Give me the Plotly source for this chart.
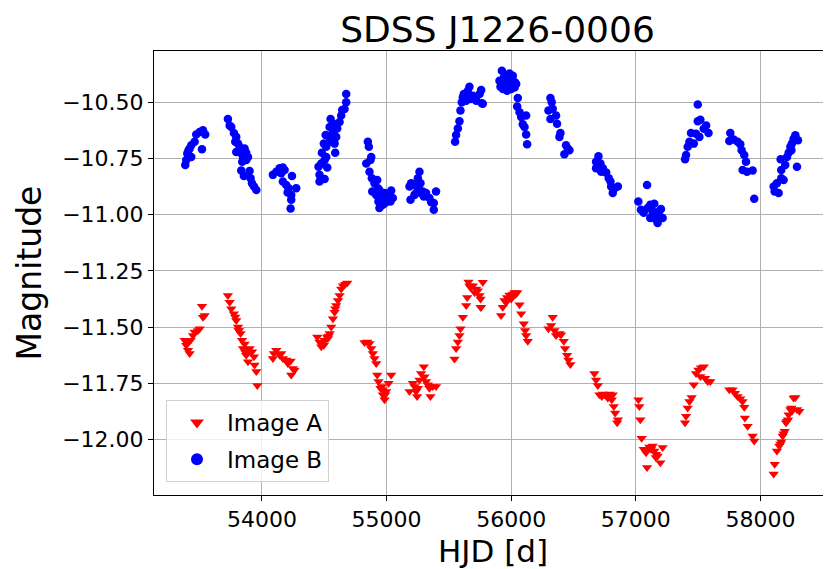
import plotly.graph_objects as go

# Image A (red, downward triangles)
hjd_a = [
    53380, 53393, 53407, 53420, 53428, 53447, 53460, 53487, 53500, 53527, 53519, 53540, 53401,
    53727, 53741, 53754, 53775, 53794, 53808, 53829, 53840, 53861, 53848, 53874, 53888, 53901,
    53920, 53936, 53941, 53955, 53963, 53888, 53785, 53815, 53813, 53867,
    54088, 54096, 54115, 54142, 54155, 54168, 54195, 54208, 54230, 54248, 54235, 54262,
    54444, 54462, 54476, 54497, 54503, 54524, 54543, 54556, 54570, 54583, 54596, 54610, 54623,
    54636, 54650, 54668, 54684, 54490, 54535, 54529, 54588,
    54823, 54845, 54863, 54877, 54890, 54903, 54917, 54925, 54935, 54951, 54970, 54984, 54997,
    55016, 55037, 54962, 54989, 54970,
    55184, 55211, 55237, 55245, 55264, 55277, 55299, 55304, 55317, 55344, 55352, 55371, 55397, 55224,
    55251, 55331,
    55545, 55558, 55572, 55585, 55593, 55612, 55639, 55647, 55657, 55673, 55692, 55706, 55719,
    55746, 55759, 55772, 55754, 55754, 55665, 55732,
    55919, 55932, 55946, 55967, 55986, 56000, 56027, 56048, 56067, 56080, 56101, 56112, 56120,
    56133, 55960, 56010, 56035, 55978, 56013,
    56333, 56299, 56320, 56347, 56360, 56387, 56400, 56422, 56432, 56448, 56459, 56475,
    56667, 56681, 56695, 56708, 56727, 56749, 56788, 56815, 56807, 56823, 56834, 56856, 56850, 56775,
    56762, 56735,
    57021, 57028, 57036, 57047, 57063, 57082, 57108, 57122, 57135, 57148, 57090, 57175, 57197,
    57215, 57160, 57095, 57162,
    57395, 57403, 57416, 57430, 57448, 57465, 57483, 57502, 57523, 57545, 57556, 57577, 57598, 57518,
    57750, 57776, 57795, 57816, 57838, 57856, 57870, 57875, 57897, 57937, 57950,
    58106, 58114, 58132, 58151, 58167, 58178, 58194, 58205, 58221, 58226, 58240, 58248, 58266,
    58280, 58293, 58312, 58185, 58160, 58213, 58253,
]
mag_a = [
    -11.559, -11.581, -11.603, -11.618, -11.559, -11.537, -11.522, -11.515, -11.507, -11.456, -11.407, -11.449, -11.569,
    -11.360, -11.390, -11.419, -11.441, -11.471, -11.500, -11.529, -11.559, -11.575, -11.595, -11.625, -11.603, -11.595,
    -11.610, -11.632, -11.669, -11.698, -11.760, -11.654, -11.455, -11.515, -11.515, -11.613,
    -11.640, -11.618, -11.603, -11.625, -11.618, -11.640, -11.647, -11.662, -11.651, -11.684, -11.713, -11.691,
    -11.544, -11.566, -11.588, -11.581, -11.559, -11.544, -11.529, -11.500, -11.463, -11.434, -11.404, -11.382, -11.360,
    -11.331, -11.316, -11.309, -11.304, -11.570, -11.540, -11.551, -11.419,
    -11.569, -11.566, -11.573, -11.595, -11.618, -11.640, -11.662, -11.713, -11.742, -11.772, -11.801, -11.823, -11.787,
    -11.750, -11.713, -11.764, -11.801, -11.779,
    -11.787, -11.750, -11.787, -11.809, -11.735, -11.706, -11.676, -11.721, -11.742, -11.772, -11.809, -11.764, -11.764, -11.764,
    -11.772, -11.757,
    -11.642, -11.595, -11.566, -11.537, -11.507, -11.456, -11.404, -11.368, -11.299, -11.324, -11.316, -11.346, -11.331,
    -11.360, -11.412, -11.301, -11.375, -11.412, -11.316, -11.338,
    -11.448, -11.412, -11.382, -11.368, -11.357, -11.375, -11.346, -11.346, -11.401, -11.441, -11.485, -11.515, -11.537,
    -11.563, -11.390, -11.360, -11.355, -11.372, -11.353,
    -11.456, -11.507, -11.493, -11.515, -11.537, -11.529, -11.534, -11.563, -11.595, -11.625, -11.647, -11.666,
    -11.706, -11.735, -11.760, -11.801, -11.809, -11.801, -11.798, -11.801, -11.823, -11.853, -11.882, -11.912, -11.926, -11.816,
    -11.804, -11.798,
    -11.823, -11.853, -11.912, -11.995, -12.044, -12.059, -12.034, -12.044, -12.029, -12.051, -12.125, -12.073, -12.103,
    -12.036, -12.080, -12.044, -12.066,
    -11.926, -11.897, -11.860, -11.831, -11.813, -11.757, -11.706, -11.691, -11.681, -11.676, -11.728, -11.742, -11.742, -11.720,
    -11.779, -11.779, -11.794, -11.809, -11.819, -11.831, -11.857, -11.904, -11.941, -11.985, -12.007,
    -12.154, -12.110, -12.051, -12.029, -12.010, -11.985, -11.963, -11.926, -11.912, -11.890, -11.867, -11.860, -11.816,
    -11.813, -11.867, -11.875, -11.975, -12.020, -11.919, -11.875,
]

# Image B (blue, circles)
hjd_b = [
    53385, 53393, 53401, 53420, 53433, 53460, 53473, 53500, 53527, 53545, 53519, 53433, 53410,
    53727, 53741, 53754, 53775, 53794, 53786, 53808, 53794, 53829, 53861, 53874, 53888, 53842,
    53834, 53855, 53901, 53909, 53920, 53936, 53955, 53848, 53874, 53821, 53866,
    54088, 54115, 54142, 54168, 54182, 54155, 54168, 54195, 54241, 54206, 54235, 54275, 54235,
    54230, 54214,
    54462, 54462, 54454, 54503, 54524, 54481, 54503, 54516, 54511, 54543, 54543, 54551, 54570,
    54588, 54596, 54604, 54623, 54636, 54644, 54663, 54676, 54676, 54516, 54583,
    54476, 54497, 54556, 54575,
    54850, 54858, 54837, 54877, 54871, 54863, 54882, 54903, 54925, 54885, 54917, 54943, 54957,
    54943, 54970, 54997, 55031, 55037, 54984, 55010, 54935, 54989, 55050, 54957, 54930,
    55184, 55192, 55224, 55237, 55251, 55264, 55272, 55291, 55277, 55317, 55344, 55379, 55379,
    55397, 55224, 55197, 55256, 55299, 55358,
    55550, 55558, 55572, 55585, 55593, 55604, 55620, 55652, 55665, 55692, 55719, 55746, 55759,
    55772, 55639, 55679, 55764, 55657, 55719, 55612,
    55925, 55920, 55946, 55973, 55986, 56000, 56013, 56027, 55933, 55960, 56040, 55995, 55985,
    55906, 55941, 55979, 56013, 56032, 56000, 55914, 55967,
    56053, 56048, 56067, 56080, 56120, 56093, 56107, 56120, 56128,
    56315, 56325, 56299, 56333, 56315, 56360, 56368, 56395, 56387, 56440, 56454, 56427, 56467,
    56700, 56681, 56681, 56716, 56735, 56722, 56762, 56783, 56797, 56815, 56829, 56856, 56802,
    57090, 57020, 57041, 57063, 57095, 57116, 57148, 57135, 57116, 57175, 57202, 57215, 57175, 57162,
    57135, 57188,
    57395, 57403, 57416, 57430, 57443, 57465, 57483, 57497, 57518, 57497, 57545, 57564, 57583, 57510,
    57758, 57750, 57785, 57817, 57838, 57849, 57870, 57884, 57857, 57892, 57937, 57950,
    58106, 58114, 58146, 58132, 58167, 58186, 58167, 58199, 58162, 58213, 58226, 58240, 58253,
    58266, 58280, 58301, 58293, 58248,
]
mag_b = [
    -10.779, -10.757, -10.728, -10.706, -10.691, -10.676, -10.643, -10.632, -10.625, -10.643, -10.709, -10.743, -10.715,
    -10.574, -10.603, -10.610, -10.637, -10.654, -10.676, -10.684, -10.721, -10.725, -10.706, -10.725, -10.743, -10.765,
    -10.804, -10.828, -10.806, -10.838, -10.860, -10.875, -10.890, -10.743, -10.757, -10.698, -10.731,
    -10.823, -10.809, -10.794, -10.790, -10.801, -10.816, -10.853, -10.868, -10.828, -10.901, -10.912, -10.882, -10.934,
    -10.973, -10.882,
    -10.853, -10.823, -10.787, -10.841, -10.790, -10.725, -10.757, -10.698, -10.646, -10.676, -10.610, -10.574, -10.632,
    -10.725, -10.654, -10.617, -10.588, -10.559, -10.534, -10.530, -10.500, -10.463, -10.743, -10.684,
    -10.772, -10.684, -10.646, -10.596,
    -10.676, -10.698, -10.772, -10.743, -10.757, -10.809, -10.838, -10.860, -10.846, -10.897, -10.912, -10.890, -10.926,
    -10.970, -10.956, -10.934, -10.941, -10.893, -10.904, -10.912, -10.941, -10.948, -10.926, -10.904, -10.882,
    -10.875, -10.934, -10.868, -10.904, -10.838, -10.809, -10.860, -10.897, -10.904, -10.904, -10.926, -10.948, -10.978,
    -10.897, -10.912, -10.860, -10.875, -10.919, -10.945,
    -10.676, -10.646, -10.617, -10.584, -10.537, -10.500, -10.463, -10.449, -10.431, -10.471, -10.493, -10.463, -10.446,
    -10.507, -10.493, -10.485, -10.504, -10.471, -10.478, -10.478,
    -10.360, -10.412, -10.404, -10.382, -10.372, -10.390, -10.404, -10.434, -10.441, -10.426, -10.419, -10.415, -10.400,
    -10.404, -10.390, -10.397, -10.382, -10.412, -10.441, -10.431, -10.449,
    -10.481, -10.519, -10.544, -10.566, -10.559, -10.598, -10.610, -10.643, -10.687,
    -10.481, -10.500, -10.537, -10.529, -10.574, -10.559, -10.596, -10.637, -10.654, -10.691, -10.706, -10.731, -10.713,
    -10.740, -10.765, -10.794, -10.772, -10.794, -10.809, -10.813, -10.838, -10.853, -10.904, -10.882, -10.875, -10.875,
    -10.868, -10.941, -10.978, -10.992, -10.970, -10.956, -10.951, -10.985, -11.015, -11.000, -10.975, -11.015, -11.037, -11.022,
    -11.000, -10.985,
    -10.754, -10.735, -10.698, -10.676, -10.637, -10.684, -10.640, -10.584, -10.578, -10.510, -10.618, -10.603, -10.637, -10.654,
    -10.637, -10.672, -10.666, -10.676, -10.687, -10.713, -10.735, -10.765, -10.801, -10.809, -10.804, -10.929,
    -10.875, -10.897, -10.904, -10.860, -10.838, -10.846, -10.801, -10.779, -10.754, -10.743, -10.725, -10.698, -10.684,
    -10.662, -10.647, -10.669, -10.787, -10.713,
]

title_text = "SDSS J1226-0006"
x_label = "HJD [d]"
y_label = "Magnitude"
x_ticks = [54000, 55000, 56000, 57000, 58000]
y_ticks = [-10.5, -10.75, -11.0, -11.25, -11.5, -11.75, -12.0]

font_family = "DejaVu Sans"
plot_top, plot_bottom = 43, 487
plot_h = plot_bottom - plot_top

fig = go.Figure()
fig.add_trace(go.Scatter(
    x=hjd_a, y=mag_a, mode="markers", name="Image A", legendgroup="a",
    marker=dict(symbol="triangle-down", size=9, color="#ff0000", line=dict(width=0)),
))
fig.add_trace(go.Scatter(
    x=hjd_b, y=mag_b, mode="markers", name="Image B", legendgroup="b",
    marker=dict(symbol="circle", size=8.5, color="#0000ff", line=dict(width=0)),
))

axis_common = dict(
    showgrid=True, gridcolor="#b0b0b0", gridwidth=1,
    showline=True, linecolor="black", linewidth=1, mirror=True,
    ticks="outside", ticklen=5, tickcolor="black",
    tickfont=dict(family=font_family, size=22, color="black"),
    zeroline=False,
)

fig.update_layout(
    width=831, height=569,
    margin=dict(l=146, r=8, t=plot_top, b=569 - plot_bottom),
    paper_bgcolor="white", plot_bgcolor="white",
    title=dict(text=title_text, x=489.5 / 831, xanchor="center",
               y=1 - 21.5 / 569, yanchor="middle",
               font=dict(family=font_family, size=36, color="black")),
    xaxis=dict(range=[53134, 58566], tickvals=x_ticks, tickformat="d", **axis_common),
    yaxis=dict(range=[-12.247, -10.272], tickvals=y_ticks, tickformat=".2f",
               title=dict(text=y_label, font=dict(family=font_family, size=33, color="black"), standoff=10),
               **axis_common),
    legend=dict(x=12 / 677, y=13 / plot_h, xanchor="left", yanchor="bottom",
                bgcolor="rgba(255,255,255,0.8)", bordercolor="#d0d0d0", borderwidth=1,
                font=dict(family=font_family, size=23, color="black"),
                itemsizing="constant", itemwidth=50,
                traceorder="grouped", tracegroupgap=4),
    showlegend=True,
    annotations=[dict(
        text=x_label, xref="paper", yref="paper", x=0.5, y=-(543 - plot_bottom) / plot_h,
        xanchor="center", yanchor="middle", showarrow=False,
        font=dict(family=font_family, size=31, color="black"),
    )],
)

fig.write_html("out.html")
